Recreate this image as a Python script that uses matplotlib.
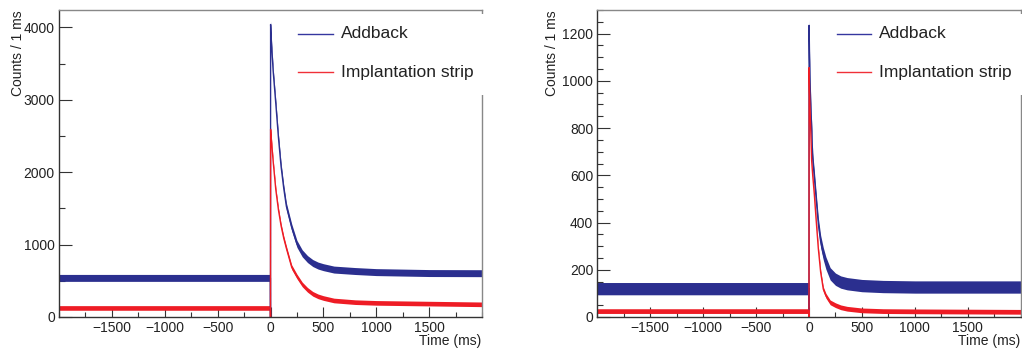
import matplotlib
matplotlib.use("Agg")
import matplotlib.pyplot as plt
from matplotlib.patches import Rectangle
from matplotlib.lines import Line2D
from matplotlib.ticker import MultipleLocator
import numpy as np

plt.rcParams['font.family'] = ['Liberation Sans', 'DejaVu Sans']

# ---------------- data ----------------
series_names = ["Addback", "Implantation strip"]

times_left = [-2000, -1000, -1, 0, 1, 10, 25, 50, 75, 100, 125, 150, 200, 250,
              300, 350, 400, 450, 500, 600, 800, 1000, 1500, 2000]
addback_left = [540, 540, 540, 0, 4040, 3760, 3400, 2950, 2480, 2080, 1780, 1530,
                1240, 1010, 880, 800, 745, 710, 688, 655, 635, 620, 607, 605]
strip_left = [125, 125, 125, 0, 2590, 2420, 2150, 1760, 1480, 1260, 1090, 950,
              690, 560, 450, 375, 320, 285, 262, 228, 205, 195, 185, 175]

times_right = [-2000, -1000, -1, 0, 1, 5, 10, 16, 25, 35, 50, 66, 88, 110, 135,
               160, 200, 250, 300, 360, 500, 700, 1000, 1500, 2000]
addback_right = [120, 120, 120, 0, 1235, 1100, 1000, 900, 800, 670, 595, 510, 395,
                 320, 268, 228, 183, 160, 148, 141, 133, 129, 127, 127, 127]
strip_right = [25, 25, 25, 0, 1056, 960, 880, 800, 662, 600, 521, 420, 290, 190,
               118, 90, 62, 50, 41, 35, 28, 25, 24, 23, 22]

# statistical spread (half-width of the noisy band) of each histogram
spread_addback_left = 48
spread_strip_left = 32
spread_addback_right = 26
spread_strip_right = 10

x_ticks = [-1500, -1000, -500, 0, 500, 1000, 1500]
yticks_left = [0, 1000, 2000, 3000, 4000]
yticks_right = [0, 200, 400, 600, 800, 1000, 1200]

# ---------------- style ----------------
BLUE = "#2b2f8f"
RED = "#ee1c25"
W, H = 1022, 350
fig = plt.figure(figsize=(W / 100, H / 100), dpi=100)


def fx(px):
    return px / W


def fy(py):
    return 1 - py / H


def make_axes(x0, x1, y0, y1):
    return fig.add_axes([fx(x0), fy(y1), fx(x1) - fx(x0), fy(y0) - fy(y1)])


def draw_panel(ax, t, blue, red, sb, sr, ymax, yticks, yminor, ylab_x, xlab_right):
    t = np.asarray(t, float)
    for vals, sp, col in ((blue, sb, BLUE), (red, sr, RED)):
        v = np.asarray(vals, float)
        ax.fill_between(t, np.clip(v - sp, 0, None), v + sp, color=col,
                        lw=0, zorder=2)
        ax.plot(t, v, color=col, lw=1.0, zorder=2.1)
    ax.set_xlim(-2000, 2000)
    ax.set_ylim(0, ymax)
    ax.set_xticks(x_ticks)
    ax.set_xticklabels([str(v).replace('-', '\u2212') for v in x_ticks])
    ax.xaxis.set_minor_locator(MultipleLocator(250))
    ax.set_yticks(yticks)
    ax.yaxis.set_minor_locator(MultipleLocator(yminor))
    ax.tick_params(axis='y', which='major', direction='in', length=9, width=0.8,
                   labelsize=10, pad=3, colors='#333333', labelcolor='#222222')
    ax.tick_params(axis='y', which='minor', direction='in', length=4.6, width=0.8,
                   colors='#333333')
    ax.tick_params(axis='x', which='major', direction='in', length=7.2, width=0.8,
                   labelsize=10, pad=3, colors='#333333', labelcolor='#222222')
    ax.tick_params(axis='x', which='minor', direction='in', length=3.6, width=0.8,
                   colors='#333333')
    for s in ('left', 'bottom'):
        ax.spines[s].set_color('#333333')
        ax.spines[s].set_linewidth(1.0)
    for s in ('top', 'right'):
        ax.spines[s].set_color('#888888')
        ax.spines[s].set_linewidth(1.0)
    # legend (white box covering the frame like ROOT's TLegend)
    ax.add_patch(Rectangle((0.552, 0.723), 0.46, 0.264, transform=ax.transAxes,
                           facecolor='white', edgecolor='none', zorder=3,
                           clip_on=False))
    for yy, col, name in ((0.923, "#35379f", series_names[0]),
                          (0.797, "#f03038", series_names[1])):
        ax.add_line(Line2D([0.565, 0.647], [yy, yy], transform=ax.transAxes,
                           color=col, lw=1.0, zorder=4, clip_on=False))
        ax.text(0.666, yy, name, transform=ax.transAxes, fontsize=12.5,
                va='center', ha='left', color='#222222', zorder=4)
    fig.text(fx(ylab_x), fy(10), "Counts / 1 ms", rotation=90, ha='center',
             va='top', fontsize=10, color='#222222')
    fig.text(fx(xlab_right), fy(341.5), "Time (ms)", ha='right', va='center',
             fontsize=10, color='#222222')


axL = make_axes(59, 482, 10, 317)
draw_panel(axL, times_left, addback_left, strip_left, spread_addback_left,
           spread_strip_left, 4240, yticks_left, 500, 18, 481)

axR = make_axes(597.3, 1020.7, 10, 317)
draw_panel(axR, times_right, addback_right, strip_right, spread_addback_right,
           spread_strip_right, 1300, yticks_right, 50, 552, 1020)

fig.savefig("out.png", dpi=100)
